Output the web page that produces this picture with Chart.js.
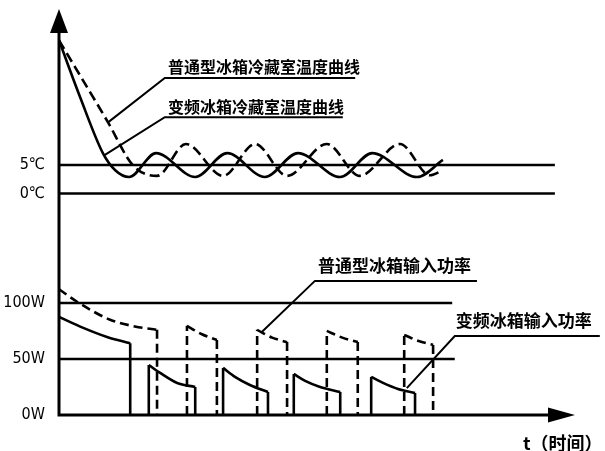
<!DOCTYPE html>
<html>
<head>
<meta charset="utf-8">
<script src="https://cdn.jsdelivr.net/npm/chart.js@4.4.1/dist/chart.umd.min.js"></script>
<style>
  body { margin: 0; background: #fff; }
  #wrap { width: 605px; height: 451px; }
</style>
</head>
<body>
<div id="wrap"><canvas id="chart"></canvas></div>
<script>
// tick labels
const tempTicks = [0, 5];
const powerTicks = [0, 50, 100];

// 变频冰箱冷藏室温度 (solid)
const invTempTime = [0, 4.1, 8.5, 10.9, 13.6, 18.8, 26.4, 32.6, 39.9, 46.3, 54.5, 60.7, 69.4, 74.4];
const invTemp = [26.9, 16.9, 7.1, 4.1, 2.9, 7.1, 2.9, 7.1, 2.9, 7.1, 2.9, 7.1, 2.9, 5.9];

// 普通型冰箱冷藏室温度 (dashed)
const stdTempTime = [0, 9.5, 14.3, 19.0, 24.6, 31.8, 38.0, 44.2, 51.9, 58.3, 66.1, 71.9, 74.4];
const stdTemp = [26.9, 12.5, 5.0, 3.1, 8.7, 3.1, 8.7, 3.1, 8.7, 3.1, 8.7, 3.2, 4.1];

// 变频冰箱输入功率 (solid), null = compressor off
const invPowerTime = [0, 4.7, 9.3, 13.8, 13.8, 15.6, 17.4, 17.4, 19.6, 22.9, 26.4, 26.4, 29,
  31.8, 31.8, 34.1, 37.0, 40.5, 40.5, 43, 45.5, 45.5, 47.7, 50.6, 54.5, 54.5, 57.5,
  60.5, 60.5, 62.8, 65.7, 69.0, 69.0];
const invPower = [87.5, 77.7, 69.6, 64, 0, null, 0, 44.6, 37.5, 28.6, 25, 0, null,
  0, 42, 34, 26.8, 20.5, 0, null, 0, 36.6, 30.4, 25, 20.5, 0, null,
  0, 34, 28.6, 23.2, 19.6, 0];

// 普通型冰箱输入功率 (dashed)
const stdPowerTime = [0, 3.5, 9.9, 14.7, 19.0, 19.0, 22, 24.8, 24.8, 27.7, 30.6, 30.6, 34,
  38.4, 38.4, 41.3, 44.2, 44.2, 48, 51.9, 51.9, 54.9, 57.9, 57.9, 62,
  66.9, 66.9, 69.7, 72.5, 72.5];
const stdPower = [112.2, 101, 85, 79, 76, 0, null, 0, 79.5, 72, 67, 0, null,
  0, 76, 69, 65, 0, null, 0, 75, 69, 65, 0, null,
  0, 71.4, 66, 62.5, 0];

// reference levels and where their lines stop
const tempRefLevels = [5, 0];
const tempRefEnd = [96.1, 96.1];
const powerRefLevels = [100, 50];
const powerRefEnd = [76.2, 76.7];

// leader lines (time, value) for the callouts
const leaderStdTempTime = [9.5, 20.5, 57.4];
const leaderStdTemp = [12.5, 20.3, 20.3];
const leaderInvTempTime = [8.9, 20.5, 55.0];
const leaderInvTemp = [6.8, 13.4, 13.4];
const leaderStdPowerTime = [39.3, 49.6, 81.0];
const leaderStdPower = [74, 119.6, 119.6];
const leaderInvPowerTime = [67.4, 76.7, 104.8];
const leaderInvPower = [24, 70.5, 70.5];

const callouts = [
  { text: "普通型冰箱冷藏室温度曲线", t: 21.1, v: 22.2, axis: "yT", size: 16 },
  { text: "变频冰箱冷藏室温度曲线", t: 21.1, v: 15.2, axis: "yT", size: 16 },
  { text: "普通型冰箱输入功率", t: 50.2, v: 133.5, axis: "yP", size: 17 },
  { text: "变频冰箱输入功率", t: 76.9, v: 84.4, axis: "yP", size: 17 }
];

function pts(xs, ys) {
  return xs.map((x, i) => ({ x: x, y: ys[i] }));
}

const datasets = [];

function addLine(data, axis, extra) {
  datasets.push(Object.assign({ data: data, yAxisID: axis, borderWidth: 2.6 }, extra || {}));
}

// split an on/off power trace into vertical edges (straight) and decays (smooth)
function addStepSeries(times, values, axis, extra) {
  let run = [];
  const flush = () => {
    let piece = [];
    for (let i = 0; i < run.length; i++) {
      const p = run[i];
      const prev = run[i - 1];
      if (prev && prev.x === p.x) {
        if (piece.length > 1) addLine(piece, axis, Object.assign({ cubicInterpolationMode: "monotone" }, extra));
        addLine([prev, p], axis, extra);
        piece = [p];
      } else {
        piece.push(p);
      }
    }
    if (piece.length > 1) addLine(piece, axis, Object.assign({ cubicInterpolationMode: "monotone" }, extra));
    run = [];
  };
  times.forEach((t, i) => {
    if (values[i] === null) flush();
    else run.push({ x: t, y: values[i] });
  });
  flush();
}

tempRefLevels.forEach((lv, i) => {
  addLine(pts([0, tempRefEnd[i]], [lv, lv]), "yT", { borderWidth: 2.5 });
});
powerRefLevels.forEach((lv, i) => {
  addLine(pts([0, powerRefEnd[i]], [lv, lv]), "yP", { borderWidth: 2.5 });
});

addLine(pts(invTempTime, invTemp), "yT", { cubicInterpolationMode: "monotone" });
addLine(pts(stdTempTime, stdTemp), "yT", { cubicInterpolationMode: "monotone", borderDash: [10, 5] });
addStepSeries(invPowerTime, invPower, "yP");
addStepSeries(stdPowerTime, stdPower, "yP", { borderDash: [9, 5] });

addLine(pts(leaderStdTempTime, leaderStdTemp), "yT", { borderWidth: 2 });
addLine(pts(leaderInvTempTime, leaderInvTemp), "yT", { borderWidth: 2 });
addLine(pts(leaderStdPowerTime, leaderStdPower), "yP", { borderWidth: 2 });
addLine(pts(leaderInvPowerTime, leaderInvPower), "yP", { borderWidth: 2, clip: false });

datasets.forEach((d) => {
  d.borderColor = "#000";
  d.pointRadius = 0;
  d.fill = false;
  d.borderCapStyle = "butt";
});

// axes with arrows + callout texts
const decorations = {
  id: "decorations",
  afterDraw(chart) {
    const ctx = chart.ctx;
    const a = chart.chartArea;
    ctx.save();
    ctx.strokeStyle = "#000";
    ctx.fillStyle = "#000";
    ctx.lineWidth = 3;
    ctx.beginPath();
    ctx.moveTo(a.left, a.top + 20);
    ctx.lineTo(a.left, a.bottom + 1.5);
    ctx.moveTo(a.left - 1.5, a.bottom);
    ctx.lineTo(a.right - 20, a.bottom);
    ctx.stroke();

    ctx.beginPath();
    ctx.moveTo(a.left, a.top);
    ctx.lineTo(a.left - 9, a.top + 24);
    ctx.lineTo(a.left + 9, a.top + 24);
    ctx.closePath();
    ctx.fill();

    ctx.beginPath();
    ctx.moveTo(a.right, a.bottom);
    ctx.lineTo(a.right - 27, a.bottom - 7.5);
    ctx.lineTo(a.right - 27, a.bottom + 7.5);
    ctx.closePath();
    ctx.fill();

    ctx.textBaseline = "middle";
    ctx.textAlign = "left";
    callouts.forEach((c) => {
      ctx.font = "bold " + c.size + "px 'Noto Sans CJK SC'";
      const x = chart.scales.x.getPixelForValue(c.t);
      const y = chart.scales[c.axis].getPixelForValue(c.v);
      ctx.fillText(c.text, x, y);
    });

    ctx.font = "bold 18px 'Noto Sans CJK SC'";
    ctx.fillText("t（时间）", a.right - 52, a.bottom + 28);
    ctx.restore();
  }
};

const tickFont = { family: "'DejaVu Sans Condensed', 'DejaVu Sans'", size: 16, lineHeight: 1 };

new Chart(document.getElementById("chart"), {
  type: "line",
  data: { datasets: datasets },
  options: {
    responsive: true,
    maintainAspectRatio: false,
    animation: false,
    layout: { padding: { left: 0, right: 30, top: 9, bottom: 36 } },
    plugins: { legend: { display: false }, tooltip: { enabled: false } },
    scales: {
      x: { type: "linear", min: 0, max: 100, display: false },
      // stacked axes are placed bottom-up: power first, temperature above it
      yP: {
        type: "linear",
        position: "left",
        stack: "y",
        stackWeight: 185,
        min: 0,
        max: 165,
        border: { display: false },
        grid: { drawOnChartArea: false, drawTicks: true, tickLength: 14, tickColor: "rgba(0,0,0,0)" },
        afterBuildTicks: (s) => { s.ticks = powerTicks.map((v) => ({ value: v })); },
        afterFit: (s) => { s.width = 59; },
        ticks: { padding: 0, color: "#000", font: tickFont, callback: (v) => v + "W" }
      },
      yT: {
        type: "linear",
        position: "left",
        stack: "y",
        stackWeight: 221,
        min: -6.4,
        max: 32.4,
        border: { display: false },
        grid: { drawOnChartArea: false, drawTicks: true, tickLength: 14, tickColor: "rgba(0,0,0,0)" },
        afterBuildTicks: (s) => { s.ticks = tempTicks.map((v) => ({ value: v })); },
        afterFit: (s) => { s.width = 59; },
        ticks: { padding: 0, color: "#000", font: tickFont, callback: (v) => v + "℃" }
      }
    }
  },
  plugins: [decorations]
});
</script>
</body>
</html>
